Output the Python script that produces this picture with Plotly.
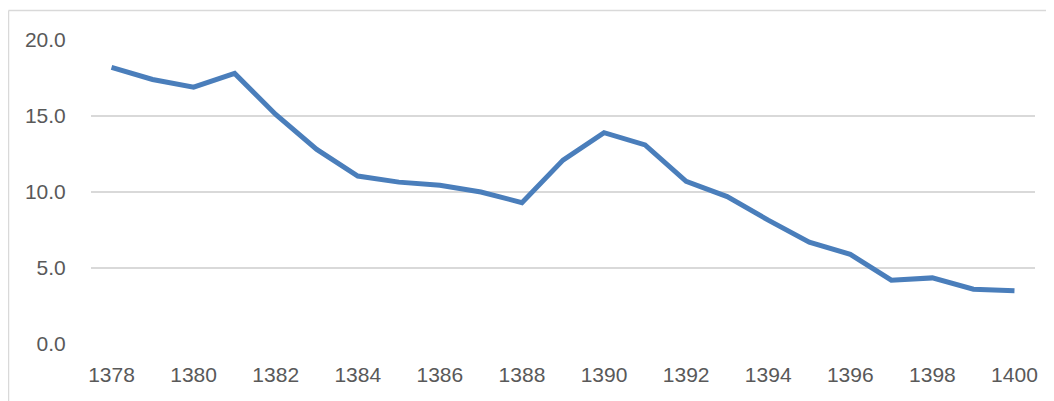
import plotly.graph_objects as go

years = list(range(1378, 1401))
values = [18.2, 17.4, 16.9, 17.8, 15.1, 12.8, 11.05, 10.65, 10.45, 10.0, 9.3,
          12.1, 13.9, 13.1, 10.7, 9.7, 8.15, 6.7, 5.9, 4.2, 4.35, 3.6, 3.5]
x_ticks = list(range(1378, 1401, 2))
y_ticks = [0, 5, 10, 15, 20]
y_tick_text = ["0.0", "5.0", "10.0", "15.0", "20.0"]

# page body has an 8px margin, so the figure starts at (8, 8)
W, H = 1046, 393
L, R, T, B = 83, 19, 32, 57
pw, ph = W - L - R, H - T - B

fig = go.Figure()
fig.add_trace(go.Scatter(x=years, y=values, mode="lines",
                         line=dict(color="#4a7ebb", width=5)))

font = dict(family="Liberation Sans, Arial, sans-serif", size=21, color="#595959")
fig.update_layout(
    width=W, height=H,
    margin=dict(l=L, r=R, t=T, b=B),
    paper_bgcolor="white", plot_bgcolor="white",
    showlegend=False,
    font=font,
    xaxis=dict(range=[1377.5, 1400.5], tickvals=x_ticks, showgrid=False,
               zeroline=False, showline=False, ticks="outside", ticklen=12,
               tickcolor="rgba(0,0,0,0)", tickfont=font),
    yaxis=dict(range=[0, 20], tickvals=y_ticks, ticktext=y_tick_text,
               showgrid=True, gridcolor="#d9d9d9", gridwidth=1.5,
               zeroline=False, showline=False, ticks="outside", ticklen=20,
               tickcolor="rgba(0,0,0,0)", tickfont=font),
    shapes=[
        dict(type="line", xref="paper", yref="paper",
             x0=(0.5 - L) / pw, x1=(W + 5 - L) / pw,
             y0=1 + (T - 2.5) / ph, y1=1 + (T - 2.5) / ph,
             line=dict(color="#d9d9d9", width=1.5)),
        dict(type="line", xref="paper", yref="paper",
             x0=(0.5 - L) / pw, x1=(0.5 - L) / pw,
             y0=1 + (T - 2.5) / ph, y1=-0.3,
             line=dict(color="#d9d9d9", width=1.5)),
    ],
)
fig.write_html("out.html")
